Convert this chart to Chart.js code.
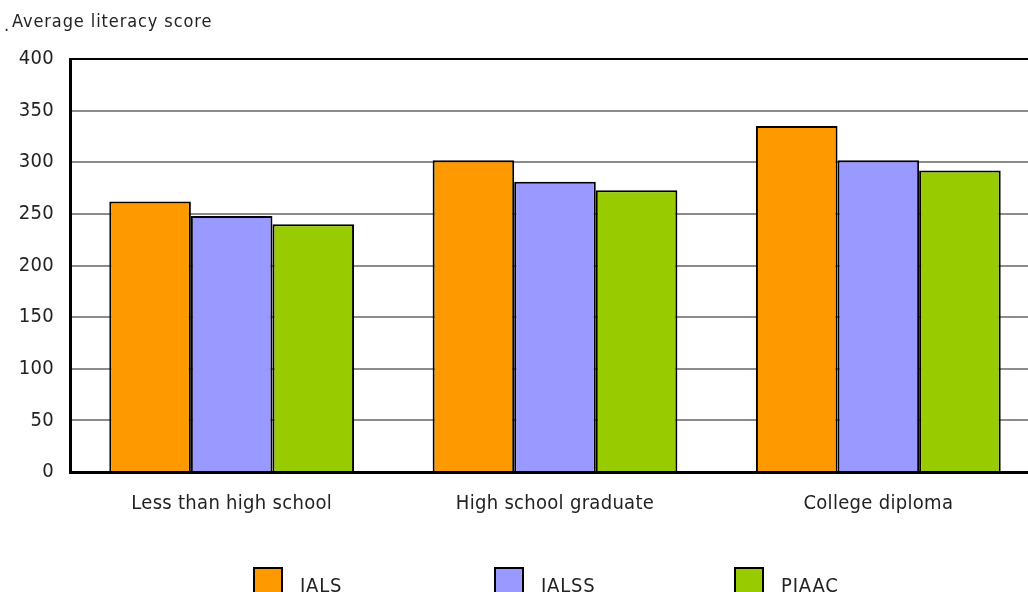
<!DOCTYPE html>
<html>
<head>
<meta charset="utf-8">
<script src="https://cdn.jsdelivr.net/npm/chart.js@4/dist/chart.umd.min.js"></script>
<style>
  html, body { margin: 0; padding: 0; background: #fff; overflow: hidden; }
  #wrap { width: 1040px; height: 592px; position: relative; }
</style>
</head>
<body>
<div id="wrap"><canvas id="scoreChart" width="1040" height="592"></canvas></div>
<script>
const categories = ['Less than high school', 'High school graduate', 'College diploma'];
const seriesNames = ['IALS', 'IALSS', 'PIAAC'];
const ialsScores = [262, 302, 335];
const ialssScores = [248, 281, 302];
const piaacScores = [240, 273, 292];
const yTicks = [0, 50, 100, 150, 200, 250, 300, 350, 400];

const FONT = '"Liberation Sans Narrow", "DejaVu Sans Condensed", "Arial Narrow", sans-serif';
const colors = ['#FF9900', '#9999FF', '#99CC00'];

// axis caption in the top-left corner and the legend row under the chart
const extras = {
    id: 'extras',
    beforeDraw(chart) {
        chart.ctx.letterSpacing = '0.3px';
    },
    afterDraw(chart) {
        const ctx = chart.ctx;
        ctx.save();
        ctx.fillStyle = '#222';
        ctx.font = '18px ' + FONT;
        ctx.textBaseline = 'middle';
        ctx.letterSpacing = '0.9px';
        ctx.fillText('.', 4, 26);
        ctx.fillText('Average literacy score', 12, 22);

        const startX = [254, 495, 735];
        chart.data.datasets.forEach((ds, i) => {
            const x = startX[i];
            ctx.fillStyle = ds.backgroundColor;
            ctx.fillRect(x, 568, 28, 30);
            ctx.lineWidth = 2;
            ctx.strokeStyle = '#000';
            ctx.strokeRect(x, 568, 28, 30);
            ctx.fillStyle = '#222';
            ctx.font = '20px ' + FONT;
            ctx.letterSpacing = '0.8px';
            ctx.textBaseline = 'alphabetic';
            ctx.fillText(ds.label, x + 46, 592);
        });
        ctx.restore();
    }
};

new Chart(document.getElementById('scoreChart'), {
    type: 'bar',
    data: {
        labels: categories,
        datasets: [
            { label: seriesNames[0], data: ialsScores, backgroundColor: colors[0] },
            { label: seriesNames[1], data: ialssScores, backgroundColor: colors[1] },
            { label: seriesNames[2], data: piaacScores, backgroundColor: colors[2] }
        ].map(ds => ({ ...ds, borderColor: '#000', borderWidth: 2, barPercentage: 1, categoryPercentage: 0.757 }))
    },
    options: {
        responsive: false,
        animation: false,
        layout: { padding: { top: 59, right: 0, left: 0, bottom: 0 } },
        plugins: { legend: { display: false }, tooltip: { enabled: false } },
        scales: {
            x: {
                grid: { display: false, drawTicks: false },
                border: { color: '#000', width: 3 },
                ticks: { color: '#222', padding: 20, font: { family: FONT, size: 20 } },
                afterFit(scale) { scale.height = 120; }
            },
            y: {
                min: 0,
                max: 400,
                afterBuildTicks(scale) { scale.ticks = yTicks.map(v => ({ value: v })); },
                grid: {
                    drawTicks: false,
                    lineWidth: 2,
                    color: c => (c.tick && c.tick.value === 400 ? '#000' : '#8c8c8c')
                },
                border: { color: '#000', width: 3 },
                ticks: { color: '#222', padding: 16, font: { family: FONT, size: 20 } },
                afterFit(scale) { scale.width = 70; }
            }
        }
    },
    plugins: [extras]
});
</script>
</body>
</html>
